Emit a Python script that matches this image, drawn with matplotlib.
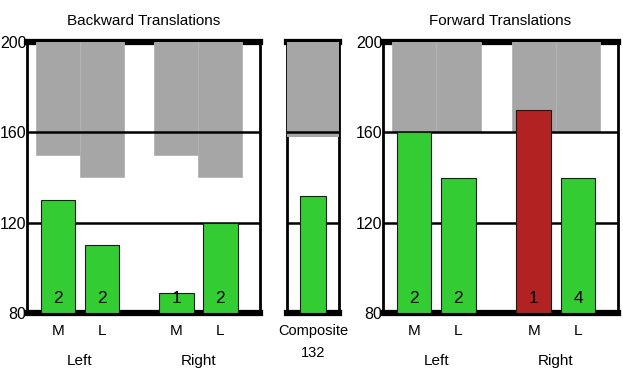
import matplotlib
matplotlib.use("Agg")
import matplotlib.pyplot as plt
import matplotlib.transforms as mtransforms

plt.rcParams['font.family'] = ['Liberation Sans Narrow', 'Liberation Sans', 'DejaVu Sans']

#### Donnees
ticks = [80, 120, 160, 200]
bar_labels = ["M", "L", "M", "L"]
groups = ["Left", "Right"]

bw_values = [130, 110, 89, 120]
bw_range_low = [150, 140, 150, 140]   # bas des zones grises
bw_counts = [2, 2, 1, 2]

comp_value = 132
comp_range_low = 158

fw_values = [160, 140, 170, 140]
fw_range_low = [160, 160, 160, 160]
fw_counts = [2, 2, 1, 4]
fw_flags = [False, False, True, False]   # barre hors zone -> rouge

GREEN = "#33cc33"
RED = "#b22222"
GRAY = "#a6a6a6"

pos = [0.7, 1.7, 3.4, 4.4]
grp_pos = [1.2, 3.9]


def base_axes(ax, xlim):
    ax.set_xlim(*xlim)
    ax.set_ylim(80, 200)
    for s in ["top", "bottom"]:
        ax.spines[s].set_visible(False)
    for s in ["left", "right"]:
        ax.spines[s].set_linewidth(2)
        ax.spines[s].set_zorder(0.5)
    ax.axhline(200, color="black", lw=4.5, zorder=0.2, clip_on=False)
    ax.axhline(80, color="black", lw=4.5, zorder=0.2, clip_on=False)
    for y in [120, 160]:
        ax.axhline(y, color="black", lw=1.8, zorder=1.5)
    ax.set_yticks(ticks)
    ax.tick_params(axis="y", length=0, pad=0.5, labelsize=11.5)
    ax.tick_params(axis="x", length=0, pad=8, labelsize=11)


def panel(ax, values, lows, counts, colors, title):
    base_axes(ax, (0, 5.3))
    ax.bar(pos, [200 - l for l in lows], bottom=lows, width=1.0,
           color=GRAY, edgecolor="#b4b4b4", linewidth=0.6, zorder=1)
    ax.bar(pos, [v - 80 for v in values], bottom=80, width=0.78,
           color=colors, edgecolor="#1a1a1a", linewidth=0.8, zorder=2)
    for x, c in zip(pos, counts):
        ax.text(x, 86.5, str(c), ha="center", va="center", fontsize=12.5, zorder=3)
    ax.set_xticks(pos)
    ax.set_xticklabels(bar_labels)
    trans = mtransforms.blended_transform_factory(ax.transData, ax.transAxes)
    for x, g in zip(grp_pos, groups):
        ax.text(x, -0.177, g, transform=trans, ha="center", va="center", fontsize=11)
    ax.set_title(title, fontsize=11, pad=12)


fig = plt.figure(figsize=(6.23, 3.78), dpi=100)
ax1 = fig.add_axes([27 / 623, 65 / 378, 233 / 623, 271 / 378])
ax2 = fig.add_axes([287 / 623, 65 / 378, 52 / 623, 271 / 378])
ax3 = fig.add_axes([383 / 623, 65 / 378, 235 / 623, 271 / 378])

panel(ax1, bw_values, bw_range_low, bw_counts, [GREEN] * 4, "Backward Translations")
panel(ax3, fw_values, fw_range_low, fw_counts,
      [RED if f else GREEN for f in fw_flags], "Forward Translations")

# panneau composite
base_axes(ax2, (0, 1))
ax2.bar([0.5], [200 - comp_range_low], bottom=[comp_range_low], width=1.0,
        color=GRAY, zorder=1)
ax2.bar([0.5], [comp_value - 80], bottom=80, width=0.5,
        color=GREEN, edgecolor="#1a1a1a", linewidth=0.8, zorder=2)
ax2.set_yticklabels([])
ax2.set_xticks([0.5])
ax2.set_xticklabels(["Composite\n%d" % comp_value], linespacing=1.75, fontsize=10.5)

fig.savefig("out.png", dpi=100)
